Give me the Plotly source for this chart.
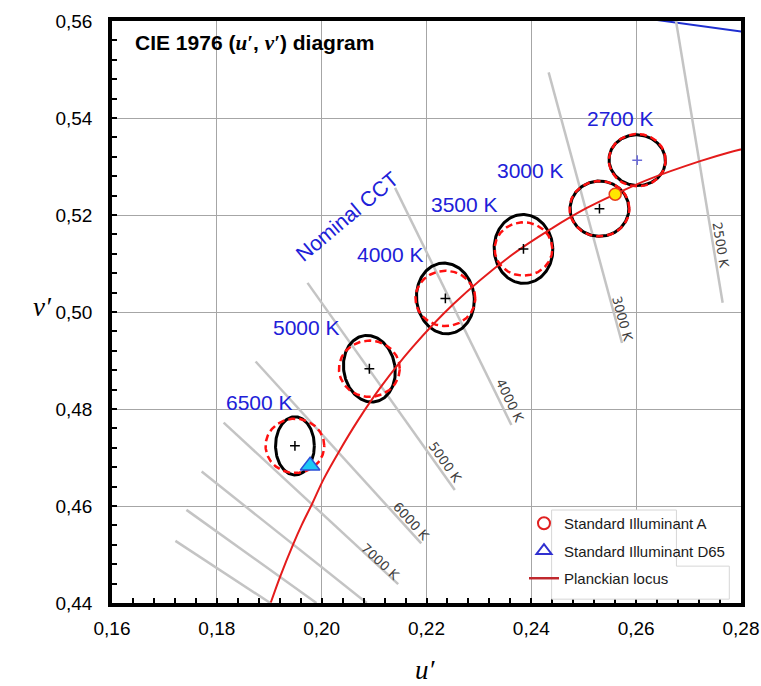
import numpy as np
import plotly.graph_objects as go

# ---------------- data ----------------
# Nominal CCT ellipses (centres, black ellipse semi-axes, tilt, red circle radius)
cct_labels = ["6500 K", "5000 K", "4000 K", "3500 K", "3000 K", "2700 K"]
centre_u = [0.1949, 0.2091, 0.2236, 0.2385, 0.2530, 0.2602]
centre_v = [0.4724, 0.4883, 0.5028, 0.5130, 0.5213, 0.5313]
ellipse_a = [0.0037, 0.0049, 0.0055, 0.0056, 0.0056, 0.0054]   # semi-axis along u'
ellipse_b = [0.0060, 0.0069, 0.0073, 0.0071, 0.0057, 0.0052]   # semi-axis along v'
ellipse_tilt = [0, 8, 5, 2, 0, -20]                              # degrees
circle_r = [0.0056, 0.0058, 0.0057, 0.0055, 0.0057, 0.0054]

# Planckian locus (u', v')
planck_T = [10000, 9000, 8000, 7500, 7000, 6500, 6000, 5500, 5000, 4500,
            4000, 3500, 3200, 3000, 2856, 2700, 2500, 2400, 2300]
planck_u = [0.1903, 0.1921, 0.1946, 0.1962, 0.1982, 0.2004, 0.2033, 0.2069, 0.2114, 0.2173,
            0.2251, 0.2357, 0.2440, 0.2505, 0.2560, 0.2625, 0.2722, 0.2777, 0.2838]
planck_v = [0.4401, 0.4455, 0.4522, 0.4561, 0.4605, 0.4656, 0.4712, 0.4776, 0.4847, 0.4927,
            0.5016, 0.5113, 0.5173, 0.5214, 0.5243, 0.5274, 0.5311, 0.5329, 0.5345]

# Spectral locus segment (570-590 nm)
spectral_u = [0.2026, 0.2623, 0.3315]
spectral_v = [0.5694, 0.5605, 0.5501]

# Isotemperature lines (start / end points) and their labels
iso_labels = ["2500 K", "3000 K", "4000 K", "5000 K", "6000 K", "7000 K", "", "", ""]
iso_u0 = [0.2676, 0.2433, 0.2140, 0.1973, 0.1874, 0.1813, 0.1771, 0.1742, 0.1721]
iso_v0 = [0.5600, 0.5494, 0.5256, 0.5060, 0.4898, 0.4772, 0.4671, 0.4592, 0.4528]
iso_u1 = [0.2765, 0.2573, 0.2362, 0.2254, 0.2190, 0.2146, 0.2086, 0.1990, 0.1902]
iso_v1 = [0.5019, 0.4936, 0.4767, 0.4633, 0.4523, 0.4439, 0.4400, 0.4400, 0.4400]

# Standard illuminants
illum_A = (0.2560, 0.5243)
illum_D65 = (0.1978, 0.4683)

# tick values
tick_u = [0.16, 0.18, 0.20, 0.22, 0.24, 0.26, 0.28]
tick_v = [0.44, 0.46, 0.48, 0.50, 0.52, 0.54, 0.56]

# ---------------- label placement (layout) ----------------
cct_label_pos = [(0.1881, 0.4814), (0.1971, 0.4968), (0.2132, 0.5119),
                 (0.2272, 0.5222), (0.2399, 0.5291), (0.2570, 0.5398)]
iso_label_pos = [(0.2762, 0.5138), (0.2573, 0.4986), (0.2359, 0.4818),
                 (0.2236, 0.4690), (0.2171, 0.4568), (0.2111, 0.4485)]

W, H = 761, 686
M = dict(l=112, r=20, t=21, b=83)
PPU = (W - M["l"] - M["r"]) / 0.12
PPV = (H - M["t"] - M["b"]) / 0.12

fig = go.Figure()

# spectral locus
fig.add_trace(go.Scatter(x=spectral_u, y=spectral_v, mode="lines",
                         line=dict(color="#1f2fd0", width=2), showlegend=False, hoverinfo="skip"))

# isotemperature lines
for u0, v0, u1, v1 in zip(iso_u0, iso_v0, iso_u1, iso_v1):
    fig.add_trace(go.Scatter(x=[u0, u1], y=[v0, v1], mode="lines",
                             line=dict(color="#c4c4c4", width=2.5),
                             showlegend=False, hoverinfo="skip"))

t = np.linspace(0, 2 * np.pi, 181)
# black ellipses
for cu, cv, a, b, tilt in zip(centre_u, centre_v, ellipse_a, ellipse_b, ellipse_tilt):
    ph = np.deg2rad(tilt)
    ex = cu + a * np.cos(t) * np.cos(ph) - b * np.sin(t) * np.sin(ph)
    ey = cv + a * np.cos(t) * np.sin(ph) + b * np.sin(t) * np.cos(ph)
    fig.add_trace(go.Scatter(x=ex, y=ey, mode="lines", line=dict(color="black", width=3),
                             showlegend=False, hoverinfo="skip"))
# red dashed circles
for cu, cv, r in zip(centre_u, centre_v, circle_r):
    fig.add_trace(go.Scatter(x=cu + r * np.cos(t), y=cv + r * np.sin(t), mode="lines",
                             line=dict(color="#ff1010", width=2.5, dash="7px,4px"),
                             showlegend=False, hoverinfo="skip"))

# Planckian locus
fig.add_trace(go.Scatter(x=planck_u, y=planck_v, mode="lines", line=dict(color="#e41b1b", width=2),
                         line_shape="spline", showlegend=False, hoverinfo="skip"))

# centre crosses
fig.add_trace(go.Scatter(x=centre_u, y=centre_v, mode="markers",
                         marker=dict(symbol="cross-thin", size=7,
                                     line=dict(color=["black"] * 5 + ["#6a6ad8"], width=1.5)),
                         showlegend=False, hoverinfo="skip"))

# illuminants
fig.add_trace(go.Scatter(x=[illum_A[0]], y=[illum_A[1]], mode="markers",
                         marker=dict(symbol="circle", size=12, color="#ffe600",
                                     line=dict(color="#e8401c", width=1.5)),
                         showlegend=False, hoverinfo="skip"))
fig.add_trace(go.Scatter(x=[illum_D65[0]], y=[illum_D65[1]], mode="markers",
                         marker=dict(symbol="triangle-up", size=17, color="#1ec8f5",
                                     line=dict(color="#2b4fd8", width=1.5)),
                         showlegend=False, hoverinfo="skip"))

# legend entries
fig.add_trace(go.Scatter(x=[None], y=[None], mode="markers", name="Standard Illuminant A",
                         legendgroup="a",
                         marker=dict(symbol="circle-open", size=12, color="#e02020", line=dict(width=2))))
fig.add_trace(go.Scatter(x=[None], y=[None], mode="markers", name="Standard Illuminant D65",
                         legendgroup="b",
                         marker=dict(symbol="triangle-up-open", size=13, color="#3030d0", line=dict(width=2))))
fig.add_trace(go.Scatter(x=[None], y=[None], mode="lines", name="Planckian locus",
                         legendgroup="c", line=dict(color="#c0282d", width=2.5)))

annotations = []
# CCT labels
for lab, (lu, lv) in zip(cct_labels, cct_label_pos):
    annotations.append(dict(x=lu, y=lv, text=lab, showarrow=False,
                            font=dict(family="Liberation Sans, Arial", size=21, color="#2020d8")))
annotations.append(dict(x=0.2048, y=0.5197, text="Nominal CCT", showarrow=False, textangle=-40,
                        font=dict(family="Liberation Sans, Arial", size=21, color="#2020d8")))
# iso line labels
for lab, (lu, lv), u0, v0, u1, v1 in zip(iso_labels, iso_label_pos, iso_u0, iso_v0, iso_u1, iso_v1):
    ang = np.degrees(np.arctan2((v0 - v1) * PPV, (u1 - u0) * PPU))
    annotations.append(dict(x=lu, y=lv, text=lab, showarrow=False, textangle=float(ang),
                            font=dict(family="DejaVu Sans", size=13, color="#404040")))
# title
serif = "font-family:'Liberation Serif','Times New Roman',serif"
annotations.append(dict(xref="paper", yref="paper", x=0.034, y=0.962, xanchor="left", yanchor="middle",
                        showarrow=False,
                        text=f"<b>CIE 1976 (<span style=\"{serif}\"><i>u′</i></span>, "
                             f"<span style=\"{serif}\"><i>v′</i></span>) diagram</b>",
                        font=dict(family="Liberation Sans, Arial", size=21, color="black")))
# axis titles
annotations.append(dict(xref="paper", yref="paper", x=0.498, y=-0.144, showarrow=False,
                        text="<i>u′</i>", font=dict(family="Liberation Serif", size=27, color="black")))
annotations.append(dict(xref="paper", yref="paper", x=-0.128, y=0.508, showarrow=False,
                        text="<i>v′</i>", font=dict(family="Liberation Serif", size=27, color="black")))

axis_common = dict(showgrid=True, gridcolor="#a6a6a6", gridwidth=1.3, zeroline=False,
                   showline=True, linecolor="black", linewidth=3.5, mirror=True,
                   ticks="inside", ticklen=5, tickwidth=1.5, tickcolor="black",
                   tickformat=".2f", automargin=False,
                   tickfont=dict(family="Liberation Sans, Arial", size=19, color="black"),
                   minor=dict(ticks="inside", ticklen=5, tickwidth=1.5, tickcolor="black", showgrid=False))

fig.update_layout(
    width=W, height=H, margin=M,
    plot_bgcolor="white", paper_bgcolor="white",
    separators=",.",
    xaxis=dict(range=[0.16, 0.28], tickvals=tick_u, ticklabelstandoff=5, **axis_common),
    yaxis=dict(range=[0.44, 0.56], tickvals=tick_v, ticklabelstandoff=12, **axis_common),
    annotations=annotations,
    showlegend=True,
    legend=dict(x=0.655, y=0.165, xanchor="left", yanchor="top", bgcolor="rgba(0,0,0,0)",
                borderwidth=0, tracegroupgap=5,
                font=dict(family="Liberation Sans, Arial", size=15, color="#1a1a1a")),
    shapes=[dict(type="path", xref="x", yref="y", layer="above",
                 path="M0.24387,0.45917 L0.26768,0.45917 L0.26768,0.44760 L0.27777,0.44760 "
                      "L0.27777,0.44079 L0.24387,0.44079 Z",
                 fillcolor="white", line=dict(color="#d6d6d6", width=1))],
)
fig.update_xaxes(minor_dtick=0.004)
fig.update_yaxes(minor_dtick=0.004)

fig.write_html("out.html", config={"displayModeBar": False},
               post_script="document.body.style.margin='0';")
